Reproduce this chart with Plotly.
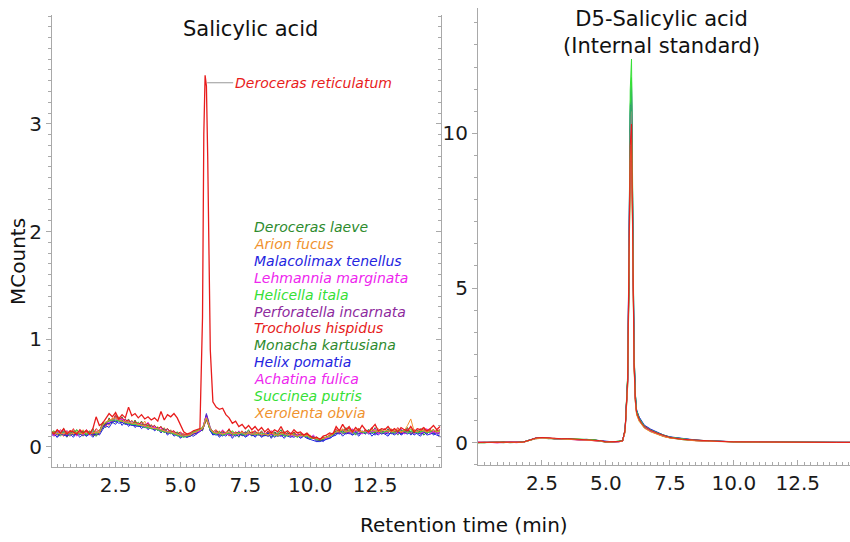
import plotly.graph_objects as go

W, H = 850, 542

# ---------------- data ----------------
# retention time sampling (min) of the salicylic acid traces: 0.125 min steps, denser at the peak
t_sa = ([round(i * 0.125, 3) for i in range(47)]
        + [5.85, 5.9, 5.95, 6.0, 6.05, 6.1, 6.15, 6.25]
        + [round(6.375 + i * 0.125, 3) for i in range(70)])

# retention time sampling (min) of the D5-salicylic acid traces
t_d5 = [0.0, 0.25, 0.5, 0.75, 1.0, 1.25, 1.5, 1.75, 2.0, 2.25, 2.5, 2.75, 3.0, 3.25, 3.5, 3.75,
        4.0, 4.25, 4.5, 4.75, 5.0, 5.25, 5.5,
        5.65, 5.75, 5.85, 5.9, 5.95, 6.0, 6.05, 6.1, 6.15, 6.2, 6.3, 6.4, 6.5,
        6.75, 7.0, 7.25, 7.5, 8.0, 8.5, 9.0, 9.5, 10.0, 11.0, 12.0, 13.0, 14.0, 14.6]

species = ["Deroceras laeve", "Arion fucus", "Malacolimax tenellus", "Lehmannia marginata",
           "Helicella itala", "Perforatella incarnata", "Trocholus hispidus", "Monacha kartusiana",
           "Helix pomatia", "Achatina fulica", "Succinea putris", "Xerolenta obvia"]
highlight = "Deroceras reticulatum"

colors = ["#2E8B2E", "#F0922E", "#2424E0", "#EE26EE", "#36E036", "#8E2A9E",
          "#E62020", "#2E8B2E", "#2424E0", "#EE26EE", "#36E036", "#F0922E"]
highlight_color = "#E81C1C"

x_ticks = [2.5, 5.0, 7.5, 10.0, 12.5]
x_tick_text = ["2.5", "5.0", "7.5", "10.0", "12.5"]
y_ticks_sa = [0, 1, 2, 3]
y_ticks_d5 = [0, 5, 10]

# Salicylic acid (MCounts)
sa_d_laeve = [0.16, 0.10, 0.15, 0.12, 0.17, 0.09, 0.14, 0.11, 0.16, 0.13, 0.10, 0.15, 0.12, 0.17, 0.11, 0.14,
              0.21, 0.18, 0.27, 0.22, 0.29, 0.24, 0.28, 0.21, 0.26, 0.20, 0.25, 0.19, 0.24, 0.18, 0.22, 0.17,
              0.20, 0.15, 0.19, 0.13, 0.17, 0.12, 0.15, 0.10, 0.13, 0.09, 0.12, 0.10, 0.14, 0.12, 0.17,
              0.15, 0.19, 0.24, 0.27, 0.23, 0.19, 0.15, 0.12,
              0.15, 0.10, 0.14, 0.12, 0.16, 0.11, 0.13, 0.09, 0.14, 0.12, 0.16, 0.10, 0.13,
              0.11, 0.15, 0.10, 0.13, 0.09, 0.14, 0.12, 0.16, 0.10, 0.13, 0.11, 0.14, 0.09, 0.12, 0.10, 0.13,
              0.08, 0.10, 0.06, 0.08, 0.06, 0.10, 0.09, 0.13,
              0.12, 0.16, 0.13, 0.18, 0.12, 0.15, 0.11, 0.17, 0.14, 0.12, 0.16, 0.13, 0.18, 0.12, 0.15, 0.13,
              0.17, 0.12, 0.15, 0.11, 0.16, 0.14, 0.18, 0.12, 0.15, 0.13, 0.17, 0.11, 0.14, 0.16, 0.12, 0.15, 0.13]
sa_a_fucus = [0.12, 0.15, 0.11, 0.16, 0.13, 0.10, 0.15, 0.12, 0.14, 0.11, 0.16, 0.12, 0.15, 0.10, 0.13, 0.16,
              0.18, 0.23, 0.20, 0.27, 0.23, 0.28, 0.22, 0.26, 0.21, 0.25, 0.19, 0.23, 0.20, 0.24, 0.17, 0.21,
              0.16, 0.19, 0.14, 0.18, 0.12, 0.16, 0.11, 0.14, 0.10, 0.13, 0.09, 0.13, 0.11, 0.15, 0.14,
              0.18, 0.21, 0.26, 0.29, 0.24, 0.21, 0.16, 0.15,
              0.12, 0.15, 0.11, 0.14, 0.10, 0.15, 0.12, 0.14, 0.10, 0.13, 0.11, 0.15, 0.12,
              0.14, 0.10, 0.13, 0.11, 0.15, 0.10, 0.12, 0.14, 0.11, 0.13, 0.09, 0.12, 0.14, 0.10, 0.12, 0.09,
              0.11, 0.08, 0.09, 0.06, 0.09, 0.08, 0.12, 0.11,
              0.15, 0.13, 0.17, 0.12, 0.16, 0.14, 0.12, 0.17, 0.13, 0.16, 0.12, 0.15, 0.13, 0.17, 0.14, 0.12,
              0.15, 0.17, 0.13, 0.16, 0.12, 0.15, 0.14, 0.17, 0.13, 0.15, 0.12, 0.16, 0.14, 0.14, 0.16, 0.13, 0.15]
sa_m_tenellus = [0.10, 0.13, 0.09, 0.12, 0.14, 0.10, 0.12, 0.09, 0.13, 0.11, 0.14, 0.10, 0.12, 0.09, 0.13, 0.11,
                 0.16, 0.20, 0.18, 0.23, 0.21, 0.25, 0.20, 0.24, 0.19, 0.22, 0.18, 0.21, 0.17, 0.20, 0.16, 0.19,
                 0.15, 0.17, 0.13, 0.16, 0.11, 0.14, 0.10, 0.12, 0.08, 0.11, 0.09, 0.11, 0.10, 0.12, 0.14,
                 0.16, 0.21, 0.27, 0.31, 0.26, 0.19, 0.15, 0.11,
                 0.13, 0.09, 0.12, 0.10, 0.13, 0.08, 0.12, 0.10, 0.13, 0.09, 0.11, 0.13, 0.09,
                 0.12, 0.09, 0.11, 0.13, 0.08, 0.12, 0.10, 0.11, 0.08, 0.12, 0.10, 0.09, 0.11, 0.08, 0.10, 0.09,
                 0.07, 0.09, 0.05, 0.07, 0.05, 0.08, 0.08, 0.10,
                 0.11, 0.14, 0.10, 0.13, 0.15, 0.11, 0.13, 0.10, 0.14, 0.12, 0.15, 0.10, 0.13, 0.11, 0.14, 0.12,
                 0.10, 0.14, 0.12, 0.15, 0.11, 0.13, 0.16, 0.11, 0.14, 0.12, 0.10, 0.14, 0.12, 0.15, 0.11, 0.13, 0.09]
sa_l_marginata = [0.14, 0.10, 0.13, 0.16, 0.11, 0.14, 0.12, 0.15, 0.10, 0.14, 0.12, 0.16, 0.11, 0.13, 0.15, 0.12,
                  0.22, 0.19, 0.25, 0.23, 0.28, 0.24, 0.27, 0.23, 0.25, 0.21, 0.24, 0.20, 0.22, 0.19, 0.23, 0.18,
                  0.19, 0.16, 0.18, 0.14, 0.16, 0.13, 0.15, 0.11, 0.13, 0.11, 0.12, 0.10, 0.13, 0.12, 0.16,
                  0.16, 0.21, 0.26, 0.28, 0.22, 0.20, 0.17, 0.13,
                  0.14, 0.12, 0.16, 0.11, 0.14, 0.13, 0.10, 0.15, 0.12, 0.14, 0.11, 0.13, 0.15,
                  0.11, 0.14, 0.12, 0.10, 0.15, 0.12, 0.13, 0.10, 0.14, 0.11, 0.13, 0.12, 0.10, 0.13, 0.11, 0.12,
                  0.09, 0.11, 0.08, 0.07, 0.09, 0.08, 0.11, 0.13,
                  0.15, 0.12, 0.16, 0.14, 0.12, 0.17, 0.13, 0.15, 0.12, 0.16, 0.14, 0.13, 0.17, 0.12, 0.15, 0.14,
                  0.13, 0.16, 0.14, 0.12, 0.17, 0.13, 0.15, 0.14, 0.12, 0.16, 0.13, 0.15, 0.17, 0.12, 0.15, 0.13, 0.16]
sa_h_itala = [0.13, 0.15, 0.11, 0.14, 0.12, 0.15, 0.11, 0.13, 0.16, 0.12, 0.14, 0.11, 0.15, 0.12, 0.14, 0.13,
              0.20, 0.22, 0.24, 0.26, 0.23, 0.27, 0.25, 0.23, 0.24, 0.22, 0.21, 0.23, 0.20, 0.21, 0.18, 0.20,
              0.17, 0.18, 0.15, 0.17, 0.14, 0.15, 0.12, 0.14, 0.11, 0.10, 0.12, 0.11, 0.15, 0.14, 0.17,
              0.18, 0.20, 0.23, 0.26, 0.24, 0.18, 0.16, 0.13,
              0.12, 0.14, 0.11, 0.13, 0.12, 0.15, 0.11, 0.13, 0.12, 0.14, 0.12, 0.11, 0.14,
              0.12, 0.13, 0.11, 0.14, 0.12, 0.10, 0.13, 0.12, 0.14, 0.11, 0.12, 0.13, 0.10, 0.12, 0.11, 0.12,
              0.10, 0.08, 0.09, 0.07, 0.08, 0.09, 0.10, 0.12,
              0.14, 0.15, 0.13, 0.16, 0.14, 0.13, 0.15, 0.16, 0.13, 0.14, 0.16, 0.13, 0.15, 0.14, 0.16, 0.13,
              0.15, 0.14, 0.16, 0.13, 0.15, 0.14, 0.13, 0.16, 0.14, 0.15, 0.13, 0.16, 0.14, 0.15, 0.13, 0.14, 0.15]
sa_p_incarnata = [0.12, 0.14, 0.11, 0.13, 0.15, 0.12, 0.10, 0.14, 0.12, 0.15, 0.11, 0.13, 0.12, 0.14, 0.11, 0.13,
                  0.19, 0.23, 0.21, 0.26, 0.24, 0.25, 0.23, 0.26, 0.22, 0.24, 0.21, 0.22, 0.20, 0.21, 0.19, 0.20,
                  0.18, 0.17, 0.16, 0.17, 0.14, 0.15, 0.13, 0.13, 0.11, 0.12, 0.10, 0.12, 0.12, 0.14, 0.15,
                  0.17, 0.19, 0.24, 0.30, 0.27, 0.21, 0.18, 0.14,
                  0.13, 0.11, 0.14, 0.12, 0.13, 0.10, 0.14, 0.12, 0.11, 0.14, 0.12, 0.13, 0.11,
                  0.13, 0.11, 0.12, 0.14, 0.11, 0.13, 0.10, 0.12, 0.13, 0.11, 0.12, 0.10, 0.12, 0.11, 0.10, 0.11,
                  0.09, 0.10, 0.07, 0.06, 0.08, 0.09, 0.10, 0.12,
                  0.13, 0.15, 0.12, 0.14, 0.13, 0.16, 0.14, 0.12, 0.15, 0.13, 0.16, 0.14, 0.13, 0.15, 0.12, 0.14,
                  0.16, 0.13, 0.14, 0.15, 0.12, 0.16, 0.14, 0.13, 0.15, 0.14, 0.12, 0.15, 0.13, 0.14, 0.16, 0.13, 0.12]
sa_t_hispidus = [0.14, 0.11, 0.16, 0.13, 0.10, 0.15, 0.12, 0.17, 0.11, 0.14, 0.12, 0.16, 0.13, 0.11, 0.17, 0.14,
                 0.23, 0.20, 0.26, 0.24, 0.30, 0.25, 0.27, 0.24, 0.25, 0.21, 0.24, 0.21, 0.23, 0.20, 0.22, 0.18,
                 0.20, 0.17, 0.19, 0.15, 0.17, 0.14, 0.15, 0.12, 0.14, 0.11, 0.12, 0.10, 0.13, 0.14, 0.16,
                 0.16, 0.19, 0.22, 0.25, 0.22, 0.19, 0.16, 0.14,
                 0.16, 0.12, 0.15, 0.13, 0.17, 0.11, 0.14, 0.12, 0.15, 0.11, 0.14, 0.13, 0.15,
                 0.12, 0.14, 0.11, 0.15, 0.12, 0.13, 0.10, 0.14, 0.12, 0.13, 0.11, 0.14, 0.10, 0.12, 0.11, 0.12,
                 0.10, 0.08, 0.09, 0.07, 0.09, 0.08, 0.11, 0.12,
                 0.17, 0.13, 0.16, 0.14, 0.18, 0.13, 0.15, 0.17, 0.13, 0.16, 0.14, 0.18, 0.13, 0.15, 0.14, 0.17,
                 0.13, 0.16, 0.14, 0.18, 0.13, 0.15, 0.17, 0.13, 0.16, 0.14, 0.15, 0.17, 0.13, 0.16, 0.14, 0.15, 0.16]
sa_m_kartusiana = [0.12, 0.14, 0.13, 0.10, 0.14, 0.12, 0.15, 0.11, 0.13, 0.12, 0.15, 0.11, 0.14, 0.12, 0.10, 0.13,
                   0.18, 0.22, 0.25, 0.24, 0.27, 0.24, 0.25, 0.22, 0.23, 0.21, 0.23, 0.20, 0.21, 0.19, 0.20, 0.18,
                   0.17, 0.18, 0.15, 0.16, 0.13, 0.14, 0.12, 0.13, 0.11, 0.10, 0.11, 0.10, 0.13, 0.13, 0.16,
                   0.16, 0.20, 0.24, 0.27, 0.25, 0.20, 0.17, 0.14,
                   0.12, 0.14, 0.12, 0.13, 0.11, 0.13, 0.12, 0.14, 0.11, 0.13, 0.12, 0.11, 0.13,
                   0.12, 0.11, 0.13, 0.10, 0.12, 0.13, 0.11, 0.12, 0.10, 0.13, 0.11, 0.12, 0.10, 0.11, 0.10, 0.11,
                   0.08, 0.09, 0.07, 0.06, 0.07, 0.09, 0.10, 0.12,
                   0.15, 0.13, 0.15, 0.14, 0.16, 0.13, 0.15, 0.14, 0.13, 0.15, 0.14, 0.16, 0.13, 0.14, 0.15, 0.13,
                   0.14, 0.15, 0.13, 0.14, 0.16, 0.13, 0.15, 0.14, 0.13, 0.15, 0.14, 0.13, 0.15, 0.14, 0.13, 0.14, 0.15]
sa_h_pomatia = [0.10, 0.12, 0.09, 0.13, 0.11, 0.10, 0.13, 0.11, 0.12, 0.09, 0.12, 0.10, 0.13, 0.11, 0.12, 0.13,
                0.18, 0.21, 0.22, 0.23, 0.24, 0.22, 0.23, 0.21, 0.21, 0.20, 0.20, 0.19, 0.19, 0.18, 0.18, 0.17,
                0.16, 0.17, 0.15, 0.15, 0.13, 0.13, 0.12, 0.11, 0.09, 0.10, 0.09, 0.10, 0.12, 0.13, 0.15,
                0.16, 0.20, 0.25, 0.29, 0.25, 0.20, 0.15, 0.12,
                0.11, 0.12, 0.10, 0.13, 0.11, 0.12, 0.10, 0.12, 0.11, 0.10, 0.12, 0.11, 0.10,
                0.12, 0.10, 0.11, 0.10, 0.12, 0.09, 0.11, 0.10, 0.12, 0.10, 0.09, 0.11, 0.10, 0.09, 0.10, 0.08,
                0.07, 0.06, 0.05, 0.05, 0.06, 0.07, 0.08, 0.10,
                0.13, 0.12, 0.14, 0.12, 0.13, 0.11, 0.14, 0.12, 0.13, 0.15, 0.12, 0.13, 0.11, 0.14, 0.12, 0.13,
                0.12, 0.13, 0.11, 0.14, 0.12, 0.13, 0.12, 0.14, 0.11, 0.13, 0.12, 0.14, 0.11, 0.12, 0.13, 0.11, 0.10]
sa_a_fulica = [0.13, 0.11, 0.14, 0.12, 0.13, 0.15, 0.11, 0.14, 0.12, 0.13, 0.11, 0.14, 0.12, 0.15, 0.12, 0.14,
               0.20, 0.23, 0.23, 0.25, 0.26, 0.25, 0.26, 0.23, 0.23, 0.22, 0.21, 0.21, 0.20, 0.19, 0.18, 0.18,
               0.18, 0.17, 0.16, 0.15, 0.14, 0.13, 0.12, 0.12, 0.10, 0.10, 0.11, 0.11, 0.13, 0.14, 0.15,
               0.17, 0.20, 0.25, 0.28, 0.24, 0.21, 0.16, 0.13,
               0.13, 0.12, 0.12, 0.13, 0.11, 0.13, 0.12, 0.12, 0.13, 0.11, 0.12, 0.12, 0.13,
               0.11, 0.12, 0.13, 0.11, 0.12, 0.12, 0.10, 0.12, 0.11, 0.12, 0.10, 0.11, 0.11, 0.10, 0.11, 0.10,
               0.09, 0.08, 0.07, 0.07, 0.08, 0.08, 0.10, 0.11,
               0.14, 0.14, 0.13, 0.15, 0.14, 0.13, 0.15, 0.14, 0.12, 0.15, 0.13, 0.14, 0.15, 0.12, 0.14, 0.13,
               0.14, 0.15, 0.13, 0.14, 0.15, 0.12, 0.14, 0.13, 0.15, 0.14, 0.13, 0.14, 0.15, 0.13, 0.14, 0.13, 0.14]
sa_s_putris = [0.14, 0.12, 0.13, 0.12, 0.14, 0.13, 0.11, 0.15, 0.13, 0.12, 0.14, 0.12, 0.13, 0.15, 0.12, 0.14,
               0.21, 0.23, 0.24, 0.25, 0.25, 0.24, 0.24, 0.23, 0.22, 0.21, 0.21, 0.20, 0.20, 0.18, 0.18, 0.17,
               0.17, 0.16, 0.15, 0.14, 0.14, 0.13, 0.12, 0.11, 0.10, 0.09, 0.10, 0.11, 0.14, 0.15, 0.16,
               0.17, 0.20, 0.24, 0.27, 0.23, 0.19, 0.16, 0.13,
               0.12, 0.13, 0.11, 0.12, 0.13, 0.12, 0.11, 0.13, 0.12, 0.11, 0.13, 0.12, 0.12,
               0.11, 0.13, 0.12, 0.11, 0.13, 0.12, 0.10, 0.12, 0.11, 0.10, 0.12, 0.11, 0.09, 0.11, 0.10, 0.10,
               0.08, 0.08, 0.07, 0.07, 0.08, 0.09, 0.10, 0.11,
               0.14, 0.15, 0.13, 0.14, 0.15, 0.14, 0.12, 0.15, 0.14, 0.13, 0.16, 0.13, 0.14, 0.15, 0.13, 0.14,
               0.15, 0.14, 0.13, 0.15, 0.14, 0.16, 0.13, 0.14, 0.15, 0.13, 0.14, 0.15, 0.13, 0.14, 0.16, 0.14, 0.15]
sa_x_obvia = [0.13, 0.14, 0.12, 0.13, 0.12, 0.14, 0.13, 0.12, 0.14, 0.13, 0.12, 0.14, 0.12, 0.13, 0.14, 0.13,
              0.20, 0.23, 0.25, 0.26, 0.27, 0.25, 0.24, 0.23, 0.23, 0.22, 0.22, 0.21, 0.20, 0.20, 0.19, 0.18,
              0.17, 0.17, 0.16, 0.15, 0.14, 0.14, 0.13, 0.12, 0.11, 0.11, 0.11, 0.11, 0.13, 0.14, 0.16,
              0.17, 0.20, 0.25, 0.27, 0.24, 0.20, 0.17, 0.14,
              0.13, 0.13, 0.12, 0.13, 0.14, 0.12, 0.13, 0.12, 0.14, 0.12, 0.13, 0.12, 0.12,
              0.13, 0.11, 0.12, 0.11, 0.13, 0.12, 0.11, 0.12, 0.13, 0.11, 0.12, 0.11, 0.10, 0.11, 0.10, 0.11,
              0.09, 0.08, 0.08, 0.07, 0.08, 0.09, 0.10, 0.12,
              0.14, 0.15, 0.16, 0.14, 0.15, 0.14, 0.16, 0.15, 0.14, 0.15, 0.14, 0.16, 0.15, 0.14, 0.15, 0.16,
              0.15, 0.14, 0.15, 0.16, 0.14, 0.15, 0.20, 0.26, 0.15, 0.14, 0.16, 0.15, 0.14, 0.15, 0.16, 0.14, 0.15]
sa_d_reticulatum = [0.15, 0.12, 0.16, 0.13, 0.17, 0.12, 0.15, 0.14, 0.12, 0.16, 0.13, 0.15, 0.12, 0.17, 0.28, 0.20,
                    0.22, 0.27, 0.31, 0.28, 0.32, 0.26, 0.30, 0.27, 0.37, 0.29, 0.31, 0.27, 0.30, 0.26, 0.28, 0.25,
                    0.27, 0.24, 0.33, 0.25, 0.30, 0.28, 0.31, 0.27, 0.20, 0.14, 0.12, 0.13, 0.15, 0.16, 0.17,
                    1.20, 2.90, 3.45, 3.35, 2.70, 1.70, 0.90, 0.42,
                    0.37, 0.35, 0.36, 0.30, 0.27, 0.22, 0.24, 0.19, 0.21, 0.17, 0.20, 0.16, 0.19,
                    0.15, 0.18, 0.14, 0.17, 0.13, 0.16, 0.14, 0.19, 0.13, 0.15, 0.12, 0.16, 0.13, 0.14, 0.11, 0.13,
                    0.10, 0.08, 0.09, 0.07, 0.10, 0.11, 0.13, 0.12,
                    0.19, 0.15, 0.21, 0.16, 0.19, 0.14, 0.18, 0.15, 0.20, 0.16, 0.14, 0.18, 0.21, 0.15, 0.17, 0.16,
                    0.19, 0.15, 0.17, 0.14, 0.18, 0.16, 0.15, 0.19, 0.14, 0.17, 0.16, 0.18, 0.15, 0.17, 0.20, 0.16, 0.19]

# D5-Salicylic acid internal standard (MCounts)
d5_d_laeve = [0.01, 0.00, 0.02, 0.01, 0.00, 0.02, 0.01, 0.02, 0.09, 0.14, 0.16, 0.13, 0.14, 0.12, 0.13, 0.11, 0.11, 0.10, 0.10, 0.06, 0.03, 0.02, 0.04,
              0.07, 0.42, 2.1, 5.3, 10.1, 11.0, 6.7, 2.7, 1.45, 1.0, 0.76, 0.62, 0.52,
              0.38, 0.30, 0.22, 0.17, 0.11, 0.07, 0.05, 0.04, 0.03, 0.02, 0.01, 0.01, 0.01, 0.01]
d5_a_fucus = [0.00, 0.01, 0.01, 0.00, 0.02, 0.01, 0.00, 0.01, 0.07, 0.13, 0.14, 0.15, 0.12, 0.13, 0.11, 0.12, 0.10, 0.09, 0.08, 0.05, 0.02, 0.03, 0.03,
              0.05, 0.36, 1.9, 5.0, 9.4, 10.2, 6.2, 2.5, 1.35, 0.93, 0.72, 0.58, 0.48,
              0.36, 0.28, 0.20, 0.16, 0.10, 0.07, 0.05, 0.03, 0.03, 0.02, 0.02, 0.01, 0.01, 0.01]
d5_m_tenellus = [0.01, 0.01, 0.00, 0.02, 0.01, 0.00, 0.02, 0.01, 0.08, 0.15, 0.15, 0.14, 0.13, 0.13, 0.12, 0.11, 0.10, 0.11, 0.09, 0.07, 0.03, 0.03, 0.04,
                 0.06, 0.41, 2.0, 5.6, 10.8, 11.7, 7.1, 2.9, 1.55, 1.04, 0.81, 0.66, 0.55,
                 0.42, 0.33, 0.24, 0.18, 0.12, 0.08, 0.06, 0.04, 0.03, 0.02, 0.01, 0.01, 0.01, 0.01]
d5_l_marginata = [0.02, 0.01, 0.01, 0.00, 0.01, 0.02, 0.00, 0.02, 0.08, 0.13, 0.15, 0.14, 0.14, 0.12, 0.12, 0.12, 0.11, 0.10, 0.09, 0.06, 0.03, 0.02, 0.03,
                  0.06, 0.39, 2.0, 5.4, 10.3, 11.2, 6.8, 2.8, 1.5, 1.0, 0.77, 0.63, 0.50,
                  0.39, 0.30, 0.23, 0.17, 0.11, 0.08, 0.05, 0.04, 0.03, 0.02, 0.01, 0.01, 0.01, 0.01]
d5_h_itala = [0.00, 0.02, 0.01, 0.01, 0.00, 0.01, 0.02, 0.01, 0.07, 0.14, 0.15, 0.15, 0.13, 0.12, 0.12, 0.12, 0.10, 0.10, 0.10, 0.06, 0.03, 0.03, 0.04,
              0.06, 0.43, 2.2, 5.9, 11.4, 12.4, 7.5, 3.0, 1.6, 1.05, 0.80, 0.65, 0.53,
              0.40, 0.32, 0.24, 0.18, 0.12, 0.08, 0.06, 0.04, 0.03, 0.02, 0.02, 0.01, 0.01, 0.01]
d5_p_incarnata = [0.01, 0.01, 0.02, 0.00, 0.01, 0.01, 0.01, 0.02, 0.08, 0.14, 0.16, 0.14, 0.13, 0.13, 0.12, 0.11, 0.11, 0.10, 0.09, 0.06, 0.02, 0.03, 0.03,
                  0.05, 0.40, 1.95, 5.3, 10.1, 10.9, 6.6, 2.7, 1.45, 1.0, 0.78, 0.65, 0.54,
                  0.41, 0.32, 0.23, 0.18, 0.12, 0.08, 0.05, 0.04, 0.03, 0.02, 0.01, 0.01, 0.01, 0.01]
d5_t_hispidus = [0.01, 0.00, 0.01, 0.02, 0.01, 0.00, 0.01, 0.01, 0.09, 0.15, 0.16, 0.15, 0.13, 0.13, 0.12, 0.12, 0.11, 0.10, 0.09, 0.06, 0.03, 0.02, 0.04,
                 0.06, 0.44, 2.1, 5.2, 9.8, 10.5, 6.4, 2.6, 1.4, 0.96, 0.74, 0.60, 0.50,
                 0.37, 0.29, 0.21, 0.16, 0.11, 0.07, 0.05, 0.04, 0.03, 0.02, 0.01, 0.01, 0.01, 0.01]
d5_m_kartusiana = [0.00, 0.01, 0.01, 0.01, 0.02, 0.00, 0.01, 0.02, 0.07, 0.13, 0.14, 0.14, 0.12, 0.12, 0.11, 0.11, 0.10, 0.09, 0.09, 0.05, 0.02, 0.03, 0.03,
                   0.05, 0.36, 1.85, 4.9, 9.3, 10.0, 6.1, 2.5, 1.33, 0.93, 0.72, 0.59, 0.49,
                   0.37, 0.29, 0.21, 0.16, 0.10, 0.07, 0.05, 0.03, 0.03, 0.02, 0.01, 0.01, 0.01, 0.01]
d5_h_pomatia = [0.01, 0.01, 0.00, 0.01, 0.01, 0.02, 0.01, 0.01, 0.08, 0.14, 0.15, 0.14, 0.14, 0.12, 0.13, 0.11, 0.10, 0.10, 0.09, 0.07, 0.03, 0.03, 0.03,
                0.06, 0.42, 2.05, 5.5, 10.6, 11.5, 7.0, 2.9, 1.56, 1.06, 0.83, 0.68, 0.57,
                0.44, 0.34, 0.25, 0.19, 0.13, 0.09, 0.06, 0.04, 0.03, 0.02, 0.02, 0.01, 0.01, 0.01]
d5_a_fulica = [0.01, 0.02, 0.01, 0.00, 0.01, 0.01, 0.02, 0.01, 0.08, 0.14, 0.14, 0.15, 0.13, 0.12, 0.12, 0.12, 0.10, 0.10, 0.09, 0.06, 0.03, 0.02, 0.03,
               0.05, 0.40, 2.0, 5.2, 9.9, 10.7, 6.5, 2.6, 1.42, 0.97, 0.75, 0.61, 0.51,
               0.38, 0.30, 0.22, 0.17, 0.11, 0.07, 0.05, 0.04, 0.03, 0.02, 0.01, 0.01, 0.01, 0.01]
d5_s_putris = [0.00, 0.01, 0.02, 0.01, 0.01, 0.00, 0.01, 0.02, 0.09, 0.14, 0.16, 0.14, 0.13, 0.13, 0.11, 0.12, 0.11, 0.10, 0.10, 0.06, 0.03, 0.03, 0.04,
               0.06, 0.42, 2.1, 5.7, 10.9, 11.8, 7.2, 2.9, 1.55, 1.03, 0.79, 0.64, 0.54,
               0.41, 0.32, 0.24, 0.18, 0.12, 0.08, 0.06, 0.04, 0.03, 0.02, 0.01, 0.01, 0.01, 0.01]
d5_x_obvia = [0.01, 0.01, 0.01, 0.02, 0.00, 0.01, 0.01, 0.01, 0.07, 0.13, 0.15, 0.14, 0.13, 0.12, 0.12, 0.11, 0.11, 0.10, 0.08, 0.06, 0.02, 0.02, 0.03,
              0.05, 0.35, 1.8, 4.8, 9.1, 9.8, 6.0, 2.4, 1.3, 0.90, 0.69, 0.56, 0.47,
              0.35, 0.27, 0.20, 0.15, 0.10, 0.06, 0.05, 0.03, 0.02, 0.02, 0.01, 0.01, 0.01, 0.01]
d5_d_reticulatum = [0.01, 0.01, 0.00, 0.01, 0.02, 0.01, 0.00, 0.02, 0.08, 0.15, 0.17, 0.15, 0.14, 0.13, 0.13, 0.12, 0.11, 0.11, 0.10, 0.07, 0.03, 0.03, 0.04,
                    0.06, 0.43, 2.0, 5.1, 9.6, 10.3, 6.3, 2.6, 1.4, 0.97, 0.76, 0.62, 0.53,
                    0.40, 0.31, 0.23, 0.17, 0.11, 0.08, 0.05, 0.04, 0.03, 0.02, 0.01, 0.01, 0.01, 0.01]

sa_series = [sa_d_laeve, sa_a_fucus, sa_m_tenellus, sa_l_marginata, sa_h_itala, sa_p_incarnata,
             sa_t_hispidus, sa_m_kartusiana, sa_h_pomatia, sa_a_fulica, sa_s_putris, sa_x_obvia]
d5_series = [d5_d_laeve, d5_a_fucus, d5_m_tenellus, d5_l_marginata, d5_h_itala, d5_p_incarnata,
             d5_t_hispidus, d5_m_kartusiana, d5_h_pomatia, d5_a_fulica, d5_s_putris, d5_x_obvia]

for s in sa_series + [sa_d_reticulatum]:
    assert len(s) == len(t_sa), (len(s), len(t_sa))
for s in d5_series + [d5_d_reticulatum]:
    assert len(s) == len(t_d5), (len(s), len(t_d5))

# ---------------- figure ----------------
fig = go.Figure()

for name, col, ys in zip(species, colors, sa_series):
    fig.add_trace(go.Scatter(x=t_sa, y=ys, mode="lines", name=name,
                             line=dict(color=col, width=1), xaxis="x", yaxis="y"))
fig.add_trace(go.Scatter(x=t_sa, y=sa_d_reticulatum, mode="lines", name=highlight,
                         line=dict(color=highlight_color, width=1.3), xaxis="x", yaxis="y"))

for name, col, ys in zip(species, colors, d5_series):
    fig.add_trace(go.Scatter(x=t_d5, y=ys, mode="lines", name=name,
                             line=dict(color=col, width=1), xaxis="x2", yaxis="y2"))
fig.add_trace(go.Scatter(x=t_d5, y=d5_d_reticulatum, mode="lines", name=highlight,
                         line=dict(color=highlight_color, width=1), xaxis="x2", yaxis="y2"))

# invisible trace so the mirrored right-hand axis of the left panel is drawn
fig.add_trace(go.Scatter(x=[t_sa[0]], y=[sa_d_laeve[0]], mode="lines", xaxis="x", yaxis="y3",
                         line=dict(width=0), hoverinfo="skip", showlegend=False))


def px_x(p):
    return p / W


def px_y(p):
    return 1 - p / H


FONT = "DejaVu Sans, Liberation Sans, Arial, sans-serif"
AX = "#A9A9A9"
tickfont = dict(family=FONT, size=20, color="#1a1a1a")

xcommon = dict(tickvals=x_ticks, ticktext=x_tick_text, ticks="inside", ticklen=5,
               tickcolor=AX, showline=True, linecolor=AX, linewidth=1.2, showgrid=False,
               zeroline=False, tickfont=tickfont, automargin=False,
               minor=dict(ticks="inside", ticklen=3, dtick=0.25, tickcolor=AX))

fig.update_layout(
    width=W, height=H,
    margin=dict(l=0, r=0, t=0, b=0, autoexpand=False),
    paper_bgcolor="white", plot_bgcolor="white",
    showlegend=False,
    xaxis=dict(domain=[px_x(52), px_x(441)], range=[0.05, 15.04], anchor="y", **xcommon),
    yaxis=dict(domain=[px_y(467), px_y(15)], range=[-0.186, 4.01], anchor="x",
               tickvals=y_ticks_sa, ticks="outside", ticklen=5, tickcolor=AX,
               showline=True, linecolor=AX, linewidth=1.2, showgrid=False, zeroline=False,
               tickfont=tickfont, automargin=False,
               minor=dict(ticks="outside", ticklen=3, dtick=0.1, tickcolor=AX)),
    yaxis3=dict(overlaying="y", side="right", anchor="x", range=[-0.186, 4.01],
                tickvals=y_ticks_sa, ticks="inside", ticklen=5, tickcolor=AX,
                showticklabels=False, showline=True, linecolor=AX, linewidth=1.2,
                showgrid=False, zeroline=False, automargin=False,
                minor=dict(ticks="inside", ticklen=3, dtick=0.1, tickcolor=AX)),
    xaxis2=dict(domain=[px_x(478), 1.0], range=[0.0, 14.54], anchor="y2", **xcommon),
    yaxis2=dict(domain=[px_y(465), px_y(8)], range=[-0.72, 14.05], anchor="x2",
                tickvals=y_ticks_d5, ticks="outside", ticklen=5, tickcolor=AX,
                showline=True, linecolor=AX, linewidth=1.2, showgrid=False, zeroline=False,
                tickfont=tickfont, automargin=False,
                minor=dict(ticks="outside", ticklen=3, dtick=5 / 7, tick0=0, tickcolor=AX)),
)

ann = []
ann.append(dict(text="Salicylic acid", x=px_x(250), y=px_y(29), xref="paper", yref="paper",
                xanchor="center", yanchor="middle",
                showarrow=False, font=dict(family=FONT, size=21, color="#111")))
ann.append(dict(text="D5-Salicylic acid<br>(Internal standard)", x=px_x(661), y=px_y(33),
                xref="paper", yref="paper", xanchor="center", yanchor="middle", showarrow=False,
                font=dict(family=FONT, size=21, color="#111")))
ann.append(dict(text="MCounts", x=px_x(18), y=px_y(262), xref="paper", yref="paper",
                xanchor="center", yanchor="middle",
                textangle=-90, showarrow=False, font=dict(family=FONT, size=20, color="#111")))
ann.append(dict(text="Retention time (min)", x=px_x(464), y=px_y(525), xref="paper", yref="paper",
                xanchor="center", yanchor="middle",
                showarrow=False, font=dict(family=FONT, size=20, color="#111")))

# species labels
for i, (name, col) in enumerate(zip(species, colors)):
    ann.append(dict(text="<i>" + name + "</i>", x=px_x(252), y=px_y(227 + i * 16.9),
                    xref="paper", yref="paper", xanchor="left", yanchor="middle",
                    showarrow=False, font=dict(family=FONT, size=14, color=col)))

# leader line + label for the highlighted species at its peak
pk = max(range(len(sa_d_reticulatum)), key=lambda k: sa_d_reticulatum[k])
ann.append(dict(text="<i>" + highlight + "</i>", x=t_sa[pk] + 0.08, y=sa_d_reticulatum[pk] * 0.98,
                xref="x", yref="y", showarrow=True, arrowhead=0, arrowwidth=1.2,
                arrowcolor="#999999", ax=26, ay=0, xanchor="left", yanchor="middle",
                standoff=0, font=dict(family=FONT, size=14, color=highlight_color)))

fig.update_layout(annotations=ann)

# remove the browser's default 8px page margin so the figure sits at the window origin
fig.write_html("out.html", config={"displayModeBar": False},
               post_script="document.body.style.margin='0';")
